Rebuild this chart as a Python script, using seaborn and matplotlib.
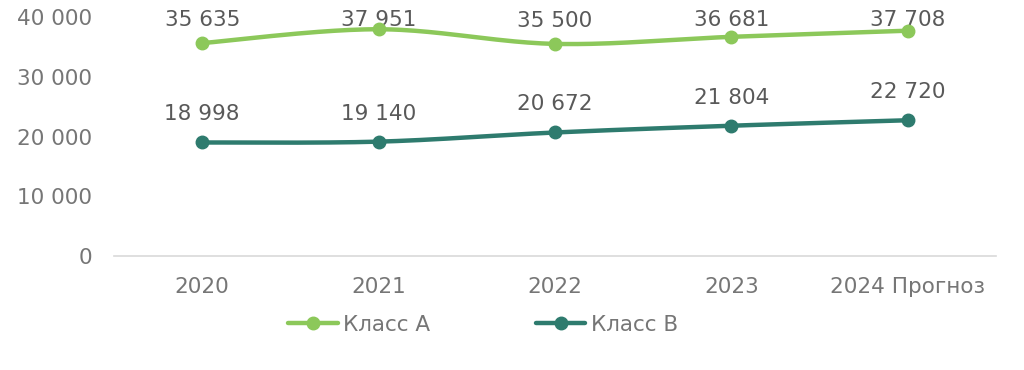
import numpy as np
import pandas as pd
import matplotlib
matplotlib.use("Agg")
import matplotlib.pyplot as plt
import seaborn as sns
from matplotlib.lines import Line2D
from matplotlib.ticker import FuncFormatter

categories = ["2020", "2021", "2022", "2023", "2024 Прогноз"]
class_a = [35635, 37951, 35500, 36681, 37708]
class_b = [18998, 19140, 20672, 21804, 22720]
series_names = ["Класс А", "Класс В"]
colors = ["#8CC85A", "#2E7B6E"]
yticks = [0, 10000, 20000, 30000, 40000]

sns.set_theme(style="white")
plt.rcParams["font.family"] = ["DejaVu Sans"]

DPI = 100

def fmt(v):
    return f"{int(v):,}".replace(",", " ")

def smooth(y, n=40):
    # Catmull-Rom (Excel-like smoothing) in category-index space
    x = np.arange(len(y), dtype=float)
    P = np.column_stack([x, np.asarray(y, dtype=float)])
    P = np.vstack([P[0], P, P[-1]])
    out = []
    for i in range(1, len(P) - 2):
        p0, p1, p2, p3 = P[i - 1], P[i], P[i + 1], P[i + 2]
        c1 = p1 + (p2 - p0) / 6.0
        c2 = p2 - (p3 - p1) / 6.0
        t = np.linspace(0, 1, n)[:, None]
        seg = ((1 - t) ** 3) * p1 + 3 * ((1 - t) ** 2) * t * c1 + 3 * (1 - t) * t ** 2 * c2 + t ** 3 * p2
        out.append(seg if i == 1 else seg[1:])
    return np.vstack(out)

fig = plt.figure(figsize=(10.24, 3.70), dpi=DPI)
ax = fig.add_axes([114 / 1024, 1 - 256 / 370, (996 - 114) / 1024, (256 - 17) / 370])
ax.set_xlim(-0.5, len(categories) - 0.5)
ax.set_ylim(0, 40000)

label_gap_px = [17, 22]
top_baseline_px = 370 - 25.7  # display coords (from bottom)

for name, vals, col, gap in zip(series_names, [class_a, class_b], colors, label_gap_px):
    curve = smooth(vals)
    df = pd.DataFrame({"x": curve[:, 0], "y": curve[:, 1]})
    sns.lineplot(data=df, x="x", y="y", ax=ax, color=col, linewidth=3.2, sort=False,
                 estimator=None)
    ax.plot(np.arange(len(vals)), vals, linestyle="none", marker="o", markersize=9,
            color=col, zorder=5)
    for i, v in enumerate(vals):
        py = ax.transData.transform((i, v))[1]
        off_px = min(gap, top_baseline_px - py)
        ax.annotate(fmt(v), (i, v), xytext=(0, off_px * 72 / DPI), textcoords="offset points",
                    ha="center", va="baseline", fontsize=15.5, color="#595959")

ax.set_xlim(-0.5, len(categories) - 0.5)
ax.set_ylim(0, 40000)
ax.set_yticks(yticks)
ax.yaxis.set_major_formatter(FuncFormatter(lambda v, p: fmt(v)))
ax.set_xticks(range(len(categories)))
ax.set_xticklabels(categories)
ax.tick_params(axis="both", length=0, labelsize=15.5, labelcolor="#767676")
ax.tick_params(axis="y", pad=16)
ax.tick_params(axis="x", pad=15)
ax.set_xlabel("")
ax.set_ylabel("")
for s in ["top", "right", "left"]:
    ax.spines[s].set_visible(False)
ax.spines["bottom"].set_color("#D9D9D9")
ax.spines["bottom"].set_linewidth(1.2)
ax.grid(False)

handles = [Line2D([0], [0], color=c, linewidth=3.2, marker="o", markersize=9) for c in colors]
leg = fig.legend(handles, series_names, loc="center", bbox_to_anchor=(483 / 1024, 1 - 325 / 370),
                 ncol=2, frameon=False, fontsize=15.5, handlelength=2.3, handletextpad=0.25,
                 columnspacing=4.9)
for t in leg.get_texts():
    t.set_color("#767676")

fig.savefig("out.png", dpi=DPI)
